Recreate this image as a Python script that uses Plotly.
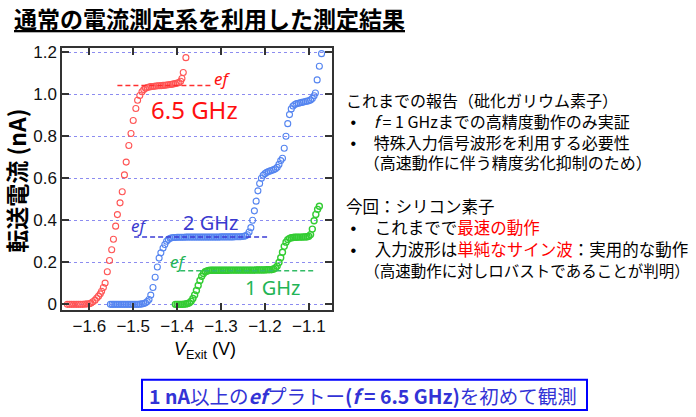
import plotly.graph_objects as go

# ---------------- data ----------------
red_v = [-1.650, -1.645, -1.640, -1.635, -1.630, -1.625, -1.620, -1.615, -1.610, -1.605,
         -1.600, -1.596, -1.592, -1.587, -1.583, -1.579, -1.575, -1.572, -1.568, -1.564,
         -1.559, -1.554, -1.549, -1.545, -1.540, -1.536, -1.530, -1.525, -1.520, -1.516,
         -1.510, -1.505, -1.500, -1.494, -1.490, -1.485, -1.480, -1.476, -1.472, -1.468,
         -1.464, -1.460, -1.456, -1.452, -1.448, -1.444, -1.440, -1.436, -1.432, -1.428,
         -1.424, -1.420, -1.416, -1.412, -1.408, -1.404, -1.400, -1.396, -1.392, -1.389,
         -1.386, -1.380]
red_i = [0.000, 0.000, 0.000, 0.000, 0.000, 0.000, 0.000, 0.000, 0.001, 0.002,
         0.003, 0.006, 0.012, 0.020, 0.030, 0.039, 0.050, 0.062, 0.080, 0.101,
         0.155, 0.209, 0.260, 0.310, 0.372, 0.427, 0.483, 0.536, 0.616, 0.677,
         0.756, 0.813, 0.875, 0.932, 0.971, 0.994, 1.012, 1.022, 1.028, 1.032,
         1.034, 1.036, 1.037, 1.038, 1.039, 1.040, 1.040, 1.041, 1.042, 1.043,
         1.044, 1.045, 1.046, 1.047, 1.049, 1.051, 1.053, 1.055, 1.062, 1.075,
         1.103, 1.174]

blue_v = [-1.552, -1.548, -1.544, -1.540, -1.536, -1.532, -1.528, -1.524, -1.520, -1.516,
          -1.512, -1.508, -1.504, -1.500, -1.496, -1.492, -1.488, -1.484, -1.480, -1.476,
          -1.472, -1.468, -1.464, -1.460, -1.455, -1.450, -1.445, -1.441, -1.437, -1.432,
          -1.428, -1.424, -1.420, -1.416, -1.412,
          -1.408, -1.404, -1.400, -1.396, -1.392, -1.388, -1.384, -1.380, -1.376, -1.372,
          -1.368, -1.364, -1.360, -1.356, -1.352, -1.348, -1.344, -1.340, -1.336, -1.332,
          -1.328, -1.324, -1.320, -1.316, -1.312, -1.308, -1.304, -1.300, -1.296, -1.292,
          -1.288, -1.284, -1.280, -1.276, -1.272, -1.268, -1.264, -1.260, -1.256, -1.252,
          -1.248, -1.244,
          -1.240, -1.236, -1.232, -1.228, -1.224, -1.220, -1.216, -1.212, -1.208, -1.204,
          -1.200, -1.196, -1.192, -1.188, -1.184, -1.180, -1.176, -1.172, -1.168, -1.164,
          -1.160, -1.156, -1.152, -1.148, -1.144, -1.140, -1.136, -1.132, -1.128, -1.124,
          -1.120, -1.116, -1.112, -1.108, -1.104, -1.100, -1.096, -1.092, -1.088, -1.085,
          -1.081, -1.076, -1.071]
blue_i = [0.000, 0.000, 0.000, 0.000, 0.000, 0.000, 0.000, 0.000, 0.000, 0.000,
          0.000, 0.000, 0.000, 0.000, 0.000, 0.000, 0.000, 0.001, 0.002, 0.004,
          0.007, 0.013, 0.023, 0.044, 0.080, 0.129, 0.178, 0.220, 0.245, 0.268,
          0.285, 0.300, 0.309, 0.314, 0.317,
          0.318, 0.318, 0.319, 0.319, 0.319, 0.319, 0.319, 0.320, 0.320, 0.320,
          0.320, 0.320, 0.320, 0.320, 0.320, 0.320, 0.320, 0.320, 0.320, 0.320,
          0.320, 0.320, 0.320, 0.320, 0.320, 0.320, 0.320, 0.321, 0.321, 0.321,
          0.321, 0.321, 0.321, 0.321, 0.321, 0.322, 0.322, 0.322, 0.322, 0.323,
          0.324, 0.326,
          0.331, 0.344, 0.365, 0.400, 0.445, 0.491, 0.540, 0.575, 0.600, 0.614,
          0.622, 0.628, 0.632, 0.635, 0.638, 0.641, 0.645, 0.652, 0.666, 0.684,
          0.695, 0.743, 0.800, 0.860, 0.903, 0.930, 0.944, 0.951, 0.955, 0.957,
          0.959, 0.961, 0.963, 0.965, 0.967, 0.969, 0.973, 0.980, 0.993, 1.006,
          1.068, 1.133, 1.193]

green_v = [-1.404, -1.400, -1.396, -1.392, -1.388, -1.384, -1.380, -1.376, -1.372, -1.368,
           -1.364, -1.360, -1.356, -1.352, -1.348, -1.344, -1.340, -1.336, -1.332, -1.328,
           -1.324, -1.320, -1.316, -1.312, -1.308, -1.304, -1.300, -1.296, -1.292, -1.288,
           -1.284, -1.280, -1.276, -1.272, -1.268, -1.264, -1.260, -1.256, -1.252, -1.248,
           -1.244, -1.240, -1.236, -1.232, -1.228, -1.224, -1.220, -1.216, -1.212, -1.208,
           -1.204, -1.200, -1.196, -1.192, -1.188, -1.184, -1.180, -1.176, -1.172, -1.168,
           -1.164, -1.160, -1.156, -1.152, -1.148, -1.144, -1.140, -1.136, -1.132, -1.128,
           -1.124, -1.120, -1.116, -1.112, -1.108, -1.104, -1.100, -1.096, -1.092, -1.088,
           -1.084, -1.080, -1.076]
green_i = [0.000, 0.000, 0.000, 0.000, 0.000, 0.001, 0.002, 0.004, 0.007, 0.015,
           0.028, 0.045, 0.066, 0.090, 0.114, 0.134, 0.147, 0.155, 0.159, 0.161,
           0.162, 0.162, 0.162, 0.162, 0.162, 0.162, 0.162, 0.162, 0.162, 0.162,
           0.162, 0.163, 0.163, 0.163, 0.163, 0.163, 0.163, 0.163, 0.163, 0.163,
           0.163, 0.163, 0.163, 0.163, 0.163, 0.163, 0.164, 0.164, 0.164, 0.164,
           0.164, 0.164, 0.165, 0.165, 0.165, 0.166, 0.168, 0.173, 0.182, 0.199,
           0.222, 0.248, 0.276, 0.296, 0.308, 0.314, 0.317, 0.318, 0.319, 0.319,
           0.320, 0.320, 0.320, 0.321, 0.321, 0.322, 0.324, 0.332, 0.358, 0.398,
           0.428, 0.452, 0.467]

# ef plateau levels (nA) and extent of the dashed guide lines (V)
ef_levels = {"red": 1.041, "blue": 0.320, "green": 0.160}
red_ef_v = [-1.536, -1.318]
blue_ef_v = [-1.498, -1.190]
green_ef_v = [-1.393, -1.086]

x_tickvals = [-1.6, -1.5, -1.4, -1.3, -1.2, -1.1]
x_ticktext = ["\u22121.6", "\u22121.5", "\u22121.4", "\u22121.3", "\u22121.2", "\u22121.1"]
y_tickvals = [0, 0.2, 0.4, 0.6, 0.8, 1.0, 1.2]
y_ticktext = ["0", "0.2", "0.4", "0.6", "0.8", "1.0", "1.2"]

# ---------------- figure ----------------
W, H = 696, 417


def fx(x):
    return x / W


def fy(y):
    return 1 - y / H


RED_M, BLUE_M, GREEN_M = "#ff5555", "#5585f0", "#33cc33"
RED_D, BLUE_D, GREEN_D = "#ff3030", "#3d3dd5", "#33bb66"
RED_T, BLUE_T, GREEN_T = "#ff1010", "#3a3acf", "#22b455"

fig = go.Figure()

for v, i, c, lw in [(red_v, red_i, RED_M, 1.1), (blue_v, blue_i, BLUE_M, 1.1),
                    (green_v, green_i, GREEN_M, 1.4)]:
    fig.add_trace(go.Scatter(
        x=v, y=i, mode="markers",
        marker=dict(symbol="circle-open", size=6, color=c, line=dict(width=lw, color=c)),
        hoverinfo="skip"))

for xs, lvl, c in [(red_ef_v, ef_levels["red"], RED_D),
                   (blue_ef_v, ef_levels["blue"], BLUE_D),
                   (green_ef_v, ef_levels["green"], GREEN_D)]:
    fig.add_trace(go.Scatter(
        x=xs, y=[lvl, lvl], mode="lines",
        line=dict(color=c, width=1.5, dash="5px,3px"), hoverinfo="skip"))

JP = "Noto Sans CJK JP"
SANS = "Noto Sans"

ann = []


def add(text, x, y, size, color="black", family=JP, xanchor="center", angle=0,
        align="center"):
    ann.append(dict(text=text, x=fx(x), y=fy(y), xref="paper", yref="paper",
                    showarrow=False, xanchor=xanchor, yanchor="middle", textangle=angle,
                    align=align,
                    font=dict(size=size, color=color, family=family)))


NB = "\u00a0"


def sp(n):
    return "<span style='font-family:Liberation Sans'>" + NB * n + "</span>"


def bullet():
    return ("<span style='font-family:Liberation Sans'>" + NB + "\u2022"
            + NB * 4 + "</span>")


# title
add("<b><u>通常の電流測定系を利用した測定結果</u></b>", 12, 13, 23, xanchor="left")
# axis titles
add("<b>転送電流 (nA)</b>", 16, 180, 23, angle=-90)
add("<i>V</i><sub>Exit</sub> (V)", 205, 354, 18, family="Liberation Sans, Arial")
# in-plot labels
add("6.5 GHz", 194, 107, 24, RED_T, SANS)
add("2 GHz", 210, 223, 20, BLUE_T, SANS)
add("1 GHz", 272, 289, 20, GREEN_T, SANS)
add("<i>ef</i>", 222, 75, 17, RED_T, SANS)
add("<i>ef</i>", 139, 226, 17, BLUE_T, SANS)
add("<i>ef</i>", 178, 263, 17, GREEN_T, SANS)

# right-hand notes (one text block each)
TX = 344
add("これまでの報告（砒化ガリウム素子）<br>"
    + bullet() + "<i>f</i> = 1 GHzまでの高精度動作のみ実証<br>"
    + bullet() + "特殊入力信号波形を利用する必要性<br>"
    + sp(4) + "（高速動作に伴う精度劣化抑制のため）",
    TX, 129, 16, xanchor="left", align="left")

add("今回：シリコン素子<br>"
    + bullet() + "これまでで<span style='color:#ff0000'>最速の動作</span><br>"
    + bullet() + "入力波形は<span style='color:#ff0000'>単純なサイン波</span>：実用的な動作<br>"
    + sp(4) + "<span style='font-size:15.5px'>（高速動作に対しロバストであることが判明）</span>",
    TX, 238, 16.5, xanchor="left", align="left")

# bottom conclusion box
add("<b>1 nA</b>以上の<b><i>ef</i></b>プラトー<b>(<i>f</i> = 6.5 GHz)</b>を初めて観測",
    363, 400, 19.5, "#3333d6")

fig.add_shape(type="rect", xref="paper", yref="paper",
              x0=fx(142), x1=fx(587), y0=fy(384), y1=fy(415),
              line=dict(color="#0000ff", width=2), fillcolor="rgba(0,0,0,0)")

axis_common = dict(
    showline=True, mirror="ticks", linecolor="#333333", linewidth=1.5,
    ticks="inside", ticklen=7, tickwidth=1.5, tickcolor="#333333",
    zeroline=False,
    tickfont=dict(family="Liberation Sans, Arial", size=17, color="#111111"),
)

fig.update_layout(
    width=W, height=H,
    margin=dict(l=0, r=0, t=0, b=0),
    paper_bgcolor="white", plot_bgcolor="white",
    showlegend=False,
    annotations=ann,
    xaxis=dict(domain=[62 / W, 332 / W], range=[-1.6622, -1.0472],
               tickvals=x_tickvals, ticktext=x_ticktext, showgrid=False,
               **axis_common),
    yaxis=dict(domain=[1 - 312 / H, 1 - 44 / H], range=[-0.0246, 1.2202],
               tickvals=y_tickvals, ticktext=y_ticktext,
               showgrid=True, gridcolor="#8c8cf0", gridwidth=1, griddash="dot",
               **axis_common),
)

fig.write_html("out.html", config={"displayModeBar": False},
               post_script="document.body.style.margin='0px';")
